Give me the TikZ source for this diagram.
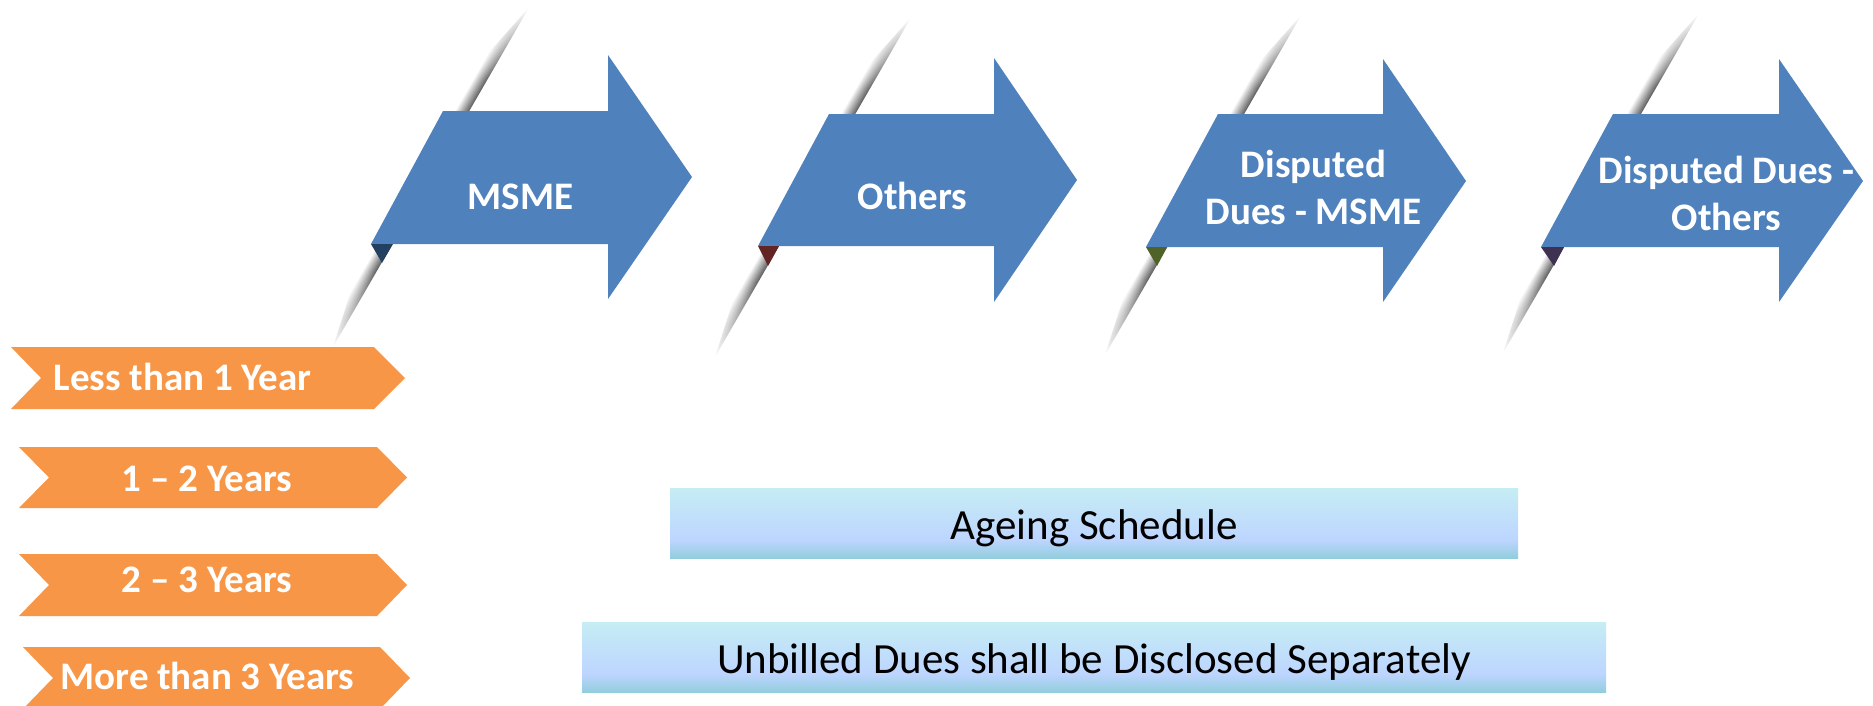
\documentclass[tikz,border=0pt]{standalone}
\usepackage{fontspec}
\setmainfont{Carlito}
\usetikzlibrary{fadings}
\definecolor{arrowblue}{RGB}{79,129,189}
\definecolor{chevorange}{RGB}{247,150,70}
\definecolor{foldA}{RGB}{36,64,97}
\definecolor{foldB}{RGB}{99,37,35}
\definecolor{foldC}{RGB}{79,98,40}
\definecolor{foldD}{RGB}{63,49,81}
\definecolor{barT}{RGB}{198,237,244}
\definecolor{barM}{RGB}{189,213,255}
\definecolor{barB}{RGB}{146,205,221}
\pgfdeclareverticalshading{barshade}{100bp}{color(0bp)=(barB); color(25bp)=(barB); color(38bp)=(barM); color(75bp)=(barT); color(100bp)=(barT)}
\pgfdeclarehorizontalshading{streakfadeshade}{100bp}{color(0bp)=(black); color(25bp)=(black); color(36bp)=(white); color(64bp)=(white); color(75bp)=(black); color(100bp)=(black)}
\tikzfading[name=streakfade, shading=streakfadeshade]
\newcommand{\foldstreak}[1]{%
  \begin{scope}[transform canvas={shift={#1},rotate=60}]
    \shade[x=1pt,y=1pt,top color=white,bottom color=black!65,path fading=streakfade]
      (0,0) -- (392,0) -- (330,13) -- (60,13) -- cycle;
  \end{scope}}
\tikzset{
  arrowtext/.style={text=white, font=\fontsize{39}{47}\selectfont\bfseries, inner sep=0pt, anchor=base, align=center},
  chevtext/.style={text=white, font=\fontsize{39}{47}\selectfont\bfseries, inner sep=0pt, anchor=base},
  bar/.style={shade, shading=barshade, inner sep=0pt, minimum height=70pt, text height=32pt, text depth=0pt, font=\fontsize{43}{50}\selectfont, text=black},
}
\begin{document}
\begin{tikzpicture}[x=1pt,y=-1pt]
\useasboundingbox[fill=white] (0,0) rectangle (1873,705);
% fold shadows
\foldstreak{(333,347)}
\foldstreak{(715,357)}
\foldstreak{(1105,355)}
\foldstreak{(1503,353)}
% arrows
\fill[arrowblue] (443,111) -- (608,111) -- (608,55) -- (692,177) -- (608,299) -- (608,244) -- (371,244) -- cycle;
\fill[foldA] (371,244) -- (393,244) -- (382,263) -- cycle;
\fill[arrowblue] (829,114) -- (994,114) -- (994,58) -- (1077,180) -- (994,302) -- (994,246) -- (758,246) -- cycle;
\fill[foldB] (758,246) -- (779,246) -- (768,266) -- cycle;
\fill[arrowblue] (1218,114) -- (1383,114) -- (1383,59) -- (1466,181) -- (1383,302) -- (1383,247) -- (1146,247) -- cycle;
\fill[foldC] (1146,247) -- (1167,247) -- (1157,266) -- cycle;
\fill[arrowblue] (1613,114) -- (1779,114) -- (1779,59) -- (1863,181) -- (1779,302) -- (1779,247) -- (1541,247) -- cycle;
\fill[foldD] (1541,247) -- (1564,247) -- (1554,266) -- cycle;
\node[arrowtext] (msme) at (520.5,209.3) {MSME};
\node[arrowtext] (others) at (912.5,209) {Others};
\node[arrowtext] (dmsme) at (1313.5,224) {Disputed\\Dues - MSME};
\node[arrowtext] (dothers) at (1726.5,230) {Disputed Dues -\\Others};
% chevrons
\fill[chevorange] (11,347) -- (374,347) -- (405,378) -- (374,409) -- (11,409) -- (41,378) -- cycle;
\fill[chevorange] (19,447) -- (377,447) -- (407,477.5) -- (377,508) -- (19,508) -- (49,477.5) -- cycle;
\fill[chevorange] (19,554) -- (377,554) -- (407,585) -- (377,616) -- (19,616) -- (49,585) -- cycle;
\fill[chevorange] (23,647) -- (380,647) -- (410,678) -- (380,709) -- (23,709) -- (53,678) -- cycle;
\node[chevtext] (lt1) at (182.5,390) {Less than 1 Year};
\node[chevtext] (y12) at (207,491.5) {1 – 2 Years};
\node[chevtext] (y23) at (207,592.5) {2 – 3 Years};
\node[chevtext] (mt3) at (207.5,689) {More than 3 Years};
% bars
\node[bar, minimum width=848pt] (ageing) at (1094,523) {Ageing Schedule};
\node[bar, minimum width=1024pt] (unbilled) at (1094,657) {Unbilled Dues shall be Disclosed Separately};
\end{tikzpicture}
\end{document}
